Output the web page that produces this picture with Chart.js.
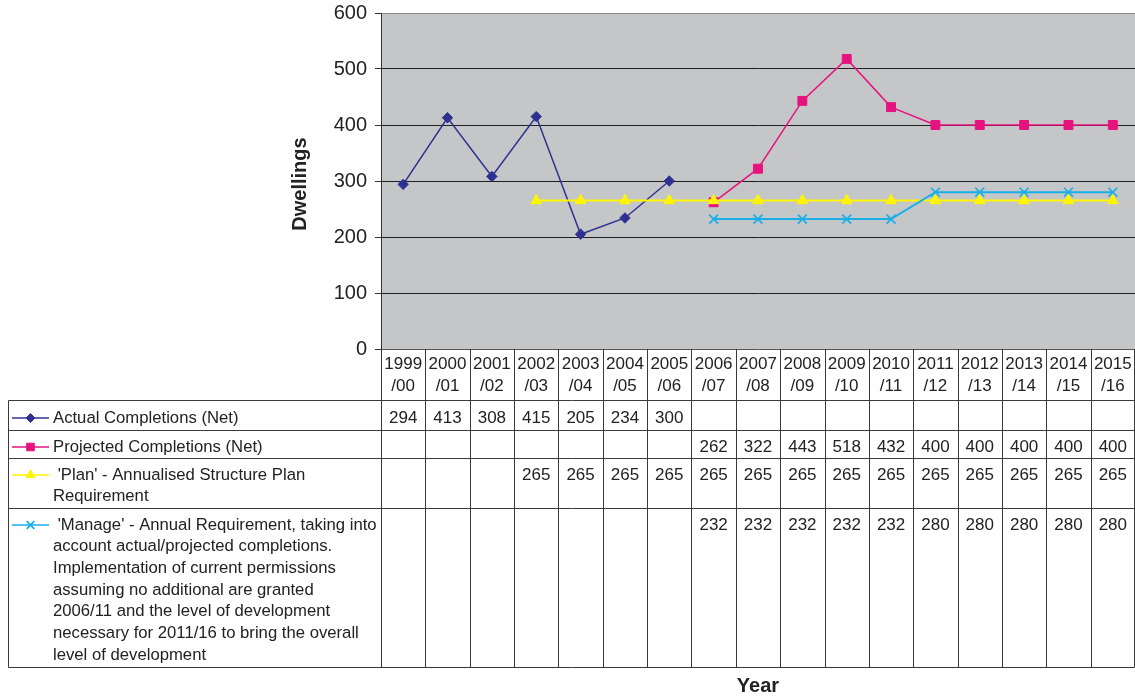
<!DOCTYPE html>
<html>
<head>
<meta charset="utf-8">
<script src="https://cdn.jsdelivr.net/npm/chart.js@4/dist/chart.umd.min.js"></script>
<style>
  html, body { margin: 0; padding: 0; background: #fff; }
  #wrap { position: relative; width: 1135px; height: 697px; }
</style>
</head>
<body>
<div id="wrap"><canvas id="c" width="1135" height="697"></canvas></div>
<script>
// Financial years shown along the category axis (two-line labels)
const years = ['1999','2000','2001','2002','2003','2004','2005','2006','2007','2008','2009','2010','2011','2012','2013','2014','2015'];
const yearEnds = ['/00','/01','/02','/03','/04','/05','/06','/07','/08','/09','/10','/11','/12','/13','/14','/15','/16'];

// Dwelling figures per year (null = no figure for that year)
const actualCompletions = [294, 413, 308, 415, 205, 234, 300, null, null, null, null, null, null, null, null, null, null];
const projectedCompletions = [null, null, null, null, null, null, null, 262, 322, 443, 518, 432, 400, 400, 400, 400, 400];
const planRequirement = [null, null, null, 265, 265, 265, 265, 265, 265, 265, 265, 265, 265, 265, 265, 265, 265];
const manageRequirement = [null, null, null, null, null, null, null, 232, 232, 232, 232, 232, 280, 280, 280, 280, 280];

// Row captions for the data table under the plot
const actualCaption = ['Actual Completions (Net)'];
const projectedCaption = ['Projected Completions (Net)'];
const planCaption = [" 'Plan' - Annualised Structure Plan", 'Requirement'];
const manageCaption = [
  " 'Manage' - Annual Requirement, taking into",
  'account actual/projected completions.',
  'Implementation of current permissions',
  'assuming no additional are granted',
  '2006/11 and the level of development',
  'necessary for 2011/16 to bring the overall',
  'level of development'
];

const yTicks = [0, 100, 200, 300, 400, 500, 600];

const FONT = '"Liberation Sans", Arial, sans-serif';
const TEXT = '#222222';
const LINE = '#3a3a3a';

const labels = years.map((y, i) => [y, yearEnds[i]]);

// table geometry (rows below the plot)
const rows = [
  { top: 400, bottom: 430, firstLine: 418, caption: actualCaption, ds: 0 },
  { top: 430, bottom: 458, firstLine: 447, caption: projectedCaption, ds: 1 },
  { top: 458, bottom: 508, firstLine: 475, caption: planCaption, ds: 2 },
  { top: 508, bottom: 667, firstLine: 525, caption: manageCaption, ds: 3 }
];
const TABLE_LEFT = 8;
const CAPTION_LINE_H = 21.7;

function drawMarker(ctx, ds, x, y, radius) {
  const opts = {
    pointStyle: ds.pointStyle,
    radius: radius,
    borderWidth: ds.pointBorderWidth || 1,
    rotation: 0
  };
  ctx.save();
  ctx.fillStyle = ds.pointBackgroundColor;
  ctx.strokeStyle = ds.pointBorderColor;
  ctx.lineWidth = opts.borderWidth;
  if (Chart.helpers && Chart.helpers.drawPoint) {
    Chart.helpers.drawPoint(ctx, opts, x, y);
  }
  ctx.restore();
}

const dataTablePlugin = {
  id: 'dataTable',
  afterDraw(chart) {
    const ctx = chart.ctx;
    const xs = chart.scales.x;
    const area = chart.chartArea;
    const n = years.length;
    const colW = (area.right - area.left) / n;
    const right = area.right - 0.5;
    ctx.save();
    ctx.strokeStyle = LINE;
    ctx.lineWidth = 1;

    // horizontal rules
    const hLines = [rows[0].top].concat(rows.map(r => r.bottom));
    hLines.forEach(y => {
      ctx.beginPath();
      ctx.moveTo(TABLE_LEFT + 0.5, y + 0.5);
      ctx.lineTo(right, y + 0.5);
      ctx.stroke();
    });
    // left border of the caption column
    ctx.beginPath();
    ctx.moveTo(TABLE_LEFT + 0.5, rows[0].top + 0.5);
    ctx.lineTo(TABLE_LEFT + 0.5, rows[rows.length - 1].bottom + 0.5);
    ctx.stroke();
    // column separators (header cells included)
    for (let i = 0; i <= n; i++) {
      let x = Math.round(area.left + i * colW) + 0.5;
      if (x > right) x = right;
      ctx.beginPath();
      ctx.moveTo(x, area.bottom);
      ctx.lineTo(x, rows[rows.length - 1].bottom + 0.5);
      ctx.stroke();
    }

    // captions with legend samples
    const datasets = chart.data.datasets;
    rows.forEach(r => {
      const ds = datasets[r.ds];
      ctx.save();
      ctx.strokeStyle = ds.borderColor;
      ctx.lineWidth = 1.3;
      ctx.beginPath();
      ctx.moveTo(12, r.firstLine);
      ctx.lineTo(49, r.firstLine);
      ctx.stroke();
      ctx.restore();
      drawMarker(ctx, ds, 30.5, r.firstLine, ds.pointRadius * 0.85);

      ctx.fillStyle = TEXT;
      ctx.font = '16.7px ' + FONT;
      ctx.textAlign = 'left';
      ctx.textBaseline = 'middle';
      r.caption.forEach((line, k) => {
        ctx.fillText(line, 53, r.firstLine + k * CAPTION_LINE_H);
      });

      // values in each year column
      ctx.font = '17px ' + FONT;
      ctx.textAlign = 'center';
      ds.data.forEach((v, i) => {
        if (v === null) return;
        ctx.fillText(String(v), xs.getPixelForValue(i), r.firstLine);
      });
    });

    // axis titles
    ctx.fillStyle = TEXT;
    ctx.font = 'bold 20px ' + FONT;
    ctx.textAlign = 'center';
    ctx.textBaseline = 'middle';
    ctx.fillText('Year', 758, 686);
    ctx.save();
    ctx.translate(300, 184);
    ctx.rotate(-Math.PI / 2);
    ctx.fillText('Dwellings', 0, 0);
    ctx.restore();
    ctx.restore();
  }
};

const plotBackground = {
  id: 'plotBackground',
  beforeDraw(chart) {
    const { ctx, chartArea: a } = chart;
    ctx.save();
    ctx.fillStyle = '#C5C6C8';
    ctx.fillRect(a.left, a.top, a.right - a.left, a.bottom - a.top);
    ctx.restore();
  }
};

new Chart(document.getElementById('c'), {
  type: 'line',
  data: {
    labels: labels,
    datasets: [
      {
        label: 'Actual Completions (Net)',
        data: actualCompletions,
        borderColor: '#2E3192', backgroundColor: '#2E3192',
        borderWidth: 1.5,
        pointStyle: 'rectRot', pointRadius: 5.2,
        pointBackgroundColor: '#2E3192', pointBorderColor: '#2E3192', pointBorderWidth: 1,
        order: 4
      },
      {
        label: 'Projected Completions (Net)',
        data: projectedCompletions,
        borderColor: '#E6137F', backgroundColor: '#E6137F',
        borderWidth: 1.5,
        pointStyle: 'rect', pointRadius: 6.3,
        pointBackgroundColor: '#E6137F', pointBorderColor: '#E6137F', pointBorderWidth: 1,
        order: 3
      },
      {
        label: "'Plan' - Annualised Structure Plan Requirement",
        data: planRequirement,
        borderColor: '#FFF500', backgroundColor: '#FFF500',
        borderWidth: 2,
        pointStyle: 'triangle', pointRadius: 6.2,
        pointBackgroundColor: '#FFF500', pointBorderColor: '#FFF500', pointBorderWidth: 1,
        order: 2
      },
      {
        label: "'Manage' - Annual Requirement",
        data: manageRequirement,
        borderColor: '#1AAEE8', backgroundColor: '#1AAEE8',
        borderWidth: 2,
        pointStyle: 'crossRot', pointRadius: 6.3,
        pointBackgroundColor: '#1AAEE8', pointBorderColor: '#1AAEE8', pointBorderWidth: 1.7,
        order: 1
      }
    ]
  },
  options: {
    responsive: false,
    animation: false,
    events: [],
    spanGaps: false,
    layout: { autoPadding: false, padding: { left: 0, right: 0, top: 13, bottom: 0 } },
    plugins: { legend: { display: false }, tooltip: { enabled: false } },
    elements: { line: { tension: 0 } },
    scales: {
      x: {
        type: 'category',
        offset: true,
        afterFit(scale) {
          scale.height = 348;
          scale.paddingLeft = 0; scale.paddingRight = 0;
        },
        grid: { display: false, drawTicks: false },
        border: { display: false },
        ticks: {
          autoSkip: false, maxRotation: 0, minRotation: 0,
          padding: 4,
          color: TEXT,
          font: { family: FONT, size: 17, lineHeight: 1.3 }
        }
      },
      y: {
        min: 0, max: 600,
        afterFit(scale) {
          scale.width = 381;
          scale.paddingTop = 0; scale.paddingBottom = 0;
        },
        afterBuildTicks(scale) { scale.ticks = yTicks.map(v => ({ value: v })); },
        grid: {
          color: (c) => c.tick && c.tick.value === 600 ? '#8a8a8a' : (c.tick && c.tick.value === 0 ? '#555' : '#1e1e1e'),
          lineWidth: 1, tickLength: 6, tickColor: '#333'
        },
        border: { display: true, color: '#333', width: 1 },
        ticks: {
          padding: 8,
          color: TEXT,
          font: { family: FONT, size: 20 }
        }
      }
    }
  },
  plugins: [plotBackground, dataTablePlugin]
});
</script>
</body>
</html>
